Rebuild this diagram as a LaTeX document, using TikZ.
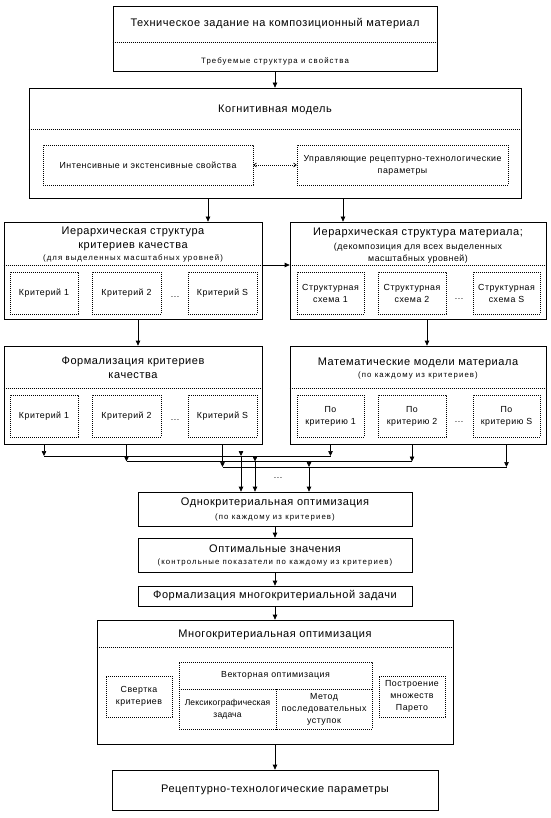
\documentclass[tikz,border=0pt]{standalone}
\usepackage{fontspec}
\setmainfont{Liberation Sans}[LetterSpace=5]
\newfontfamily\fM{Liberation Sans}[LetterSpace=6]
\newfontfamily\fS{Liberation Sans}[LetterSpace=14]
\newfontfamily\fN{Liberation Sans}[LetterSpace=2]
\usetikzlibrary{arrows.meta}
\begin{document}
\begin{tikzpicture}[x=1pt,y=-1pt,
  box/.style={draw, line width=0.7pt, inner sep=0pt},
  dbox/.style={draw, line width=0.7pt, dash pattern=on 0.9pt off 1.1pt, inner sep=0pt},
  sep/.style={line width=0.7pt, dash pattern=on 0.9pt off 1.1pt},
  ln/.style={line width=0.7pt},
  arr/.style={line width=0.7pt, -{Triangle[width=4.5pt,length=5pt]}},
  T/.style={font=\fontsize{11}{14}\selectfont, align=center, inner sep=0pt},
  M/.style={font=\fM\fontsize{8.8}{12}\selectfont, align=center, inner sep=0pt},
  N/.style={font=\fN\fontsize{8.5}{12}\selectfont, align=center, inner sep=0pt},
  S/.style={font=\fS\fontsize{7.8}{11}\selectfont, align=center, inner sep=0pt},
]
\useasboundingbox (0,0) rectangle (550,818);
\fill[white] (0,0) rectangle (550,818);

% Technical task
\node[box, minimum width=324pt, minimum height=65pt] (tz) at (275,38.5) {};
\node[T] (tzt) at (275,24) {Техническое задание на композиционный материал};
\node[S] (tzs) at (275,61) {Требуемые структура и свойства};
\draw[sep] (tz.west |- 0,42) -- (tz.east |- 0,42);

% Cognitive model
\node[box, minimum width=492pt, minimum height=110pt] (kog) at (275,143) {};
\node[T] (kogt) at (275,110) {Когнитивная модель};
\draw[sep] (kog.west |- 0,129) -- (kog.east |- 0,129);
\node[dbox, M, minimum width=210pt, minimum height=40pt] (kogL) at (148,165) {Интенсивные и экстенсивные свойства};
\node[dbox, M, minimum width=211pt, minimum height=40pt] (kogR) at (402.5,165) {Управляющие рецептурно-технологические\\параметры};
\draw[sep, {Straight Barb[length=2.5pt,width=4pt]}-{Straight Barb[length=2.5pt,width=4pt]}] (kogL) -- (kogR);

% Hierarchy left
\node[box, minimum width=258pt, minimum height=97pt] (hl) at (133,270.5) {};
\node[T] (hlt) at (133,239) {Иерархическая структура\\критериев качества};
\node[S] (hls) at (133,258) {(для выделенных масштабных уровней)};
\draw[sep] (hl.west |- 0,265) -- (hl.east |- 0,265);
\node[dbox, M, minimum width=68pt, minimum height=42pt] (hl1) at (44,293) {Критерий 1};
\node[dbox, M, minimum width=69pt, minimum height=42pt] (hl2) at (126.5,293) {Критерий 2};
\node[dbox, M, minimum width=69pt, minimum height=42pt] (hl3) at (222.5,293) {Критерий S};
\node[M] (hld) at (175,297) {...};

% Hierarchy right
\node[box, minimum width=256pt, minimum height=97pt] (hr) at (418,270.5) {};
\node[T] (hrt) at (418,233) {Иерархическая структура материала;};
\node[M] (hrs) at (418,253) {(декомпозиция для всех выделенных\\масштабных уровней)};
\draw[sep] (hr.west |- 0,265) -- (hr.east |- 0,265);
\node[dbox, M, minimum width=67pt, minimum height=42pt] (hr1) at (330.5,293) {Структурная\\схема 1};
\node[dbox, M, minimum width=68pt, minimum height=42pt] (hr2) at (412,293) {Структурная\\схема 2};
\node[dbox, M, minimum width=67pt, minimum height=42pt] (hr3) at (506.5,293) {Структурная\\схема S};
\node[M] (hrd) at (459,299) {...};

% Formalization left
\node[box, minimum width=258pt, minimum height=98pt] (fl) at (133,395) {};
\node[T] (flt) at (133,367.5) {Формализация критериев\\качества};
\draw[sep] (fl.west |- 0,388) -- (fl.east |- 0,388);
\node[dbox, M, minimum width=68pt, minimum height=42pt] (fl1) at (44,416) {Критерий 1};
\node[dbox, M, minimum width=69pt, minimum height=42pt] (fl2) at (126.5,416) {Критерий 2};
\node[dbox, M, minimum width=69pt, minimum height=42pt] (fl3) at (222.5,416) {Критерий S};
\node[M] (fld) at (175,420) {...};

% Math models right
\node[box, minimum width=256pt, minimum height=98pt] (fr) at (418,395) {};
\node[T] (frt) at (418,363) {Математические модели материала};
\node[S] (frs) at (418,375.5) {(по каждому из критериев)};
\draw[sep] (fr.west |- 0,388) -- (fr.east |- 0,388);
\node[dbox, M, minimum width=67pt, minimum height=42pt] (fr1) at (330.5,416) {По\\критерию 1};
\node[dbox, M, minimum width=68pt, minimum height=42pt] (fr2) at (412,416) {По\\критерию 2};
\node[dbox, M, minimum width=67pt, minimum height=42pt] (fr3) at (506.5,416) {По\\критерию S};
\node[M] (frd) at (459,422) {...};

% Arrows upper part
\coordinate (a1) at (208,0);
\coordinate (a2) at (343,0);
\coordinate (a3) at (138,0);
\coordinate (a4) at (427,0);
\coordinate (hy) at (0,265);
\draw[arr] (tz) -- (kog);
\draw[arr] (kog.south -| a1) -- (hl.north -| a1);
\draw[arr] (kog.south -| a2) -- (hr.north -| a2);
\draw[arr] (hl.east |- hy) -- (hr.west |- hy);
\draw[arr] (hl.south -| a3) -- (fl.north -| a3);
\draw[arr] (hr.south -| a4) -- (fr.north -| a4);

% Single-criterion optimization
\node[box, minimum width=274pt, minimum height=34pt] (one) at (275,509) {};
\node[T] (onet) at (275,502.5) {Однокритериальная оптимизация};
\node[S] (ones) at (275,517) {(по каждому из критериев)};

% Bus
\coordinate (b1) at (0,456);
\coordinate (b2) at (0,461.5);
\coordinate (b3) at (0,467);
\draw[arr] (fl.south -| fl1) -- (b1 -| fl1);
\draw[arr] (fr.south -| fr1) -- (b1 -| fr1);
\draw[ln] (b1 -| fl1) -- (b1 -| fr1);
\draw[arr] (fl.south -| fl2) -- (b2 -| fl2);
\draw[arr] (fr.south -| fr2) -- (b2 -| fr2);
\draw[ln] (b2 -| fl2) -- (b2 -| fr2);
\draw[arr] (fl.south -| fl3) -- (b3 -| fl3);
\draw[arr] (fr.south -| fr3) -- (b3 -| fr3);
\draw[ln] (b3 -| fl3) -- (b3 -| fr3);
\coordinate (v1) at (241,456);
\coordinate (v2) at (255,461.5);
\coordinate (v3) at (309,467);
\draw[arr] ([yshift=3pt]v1) -- (v1);
\draw[arr] ([yshift=3pt]v2) -- (v2);
\draw[arr] ([yshift=3pt]v3) -- (v3);
\draw[arr] (v1) -- (one.north -| v1);
\draw[arr] (v2) -- (one.north -| v2);
\draw[arr] (v3) -- (one.north -| v3);
\node[M] (bd) at (278,478) {...};

% Optimal values
\node[box, minimum width=274pt, minimum height=34pt] (opt) at (275,555) {};
\node[T] (optt) at (275,549) {Оптимальные значения};
\node[S] (opts) at (275,562.5) {(контрольные показатели по каждому из критериев)};

% Formalization multi
\node[box, T, minimum width=274pt, minimum height=20pt] (form) at (275,596) {Формализация многокритериальной задачи};

% Multi-criteria optimization
\node[box, minimum width=356pt, minimum height=124pt] (multi) at (275,682) {};
\node[T] (multit) at (275,635) {Многокритериальная оптимизация};
\draw[sep] (multi.west |- 0,647) -- (multi.east |- 0,647);
\node[dbox, M, minimum width=66pt, minimum height=41pt] (svert) at (139,696.5) {Свертка\\критериев};
\node[dbox, minimum width=193pt, minimum height=67pt] (vect) at (275.5,695.5) {};
\node[M] (vectt) at (275.5,675) {Векторная оптимизация};
\draw[sep] (vect.west |- 0,689) -- (vect.east |- 0,689);
\coordinate (vm) at (276,689);
\draw[sep] (vm) -- (vm |- vect.south);
\node[N] (lex) at (227.5,709) {Лексикографическая\\задача};
\node[M] (seq) at (324,709) {Метод\\последовательных\\уступок};
\node[dbox, M, minimum width=66pt, minimum height=41pt] (post) at (412,696.5) {Построение\\множеств\\Парето};

% Result
\node[box, T, minimum width=326pt, minimum height=40pt] (rec) at (275,790) {Рецептурно-технологические параметры};

% Arrows lower chain
\draw[arr] (one) -- (opt);
\draw[arr] (opt) -- (form);
\draw[arr] (form) -- (multi);
\draw[arr] (multi) -- (rec);
\end{tikzpicture}
\end{document}
